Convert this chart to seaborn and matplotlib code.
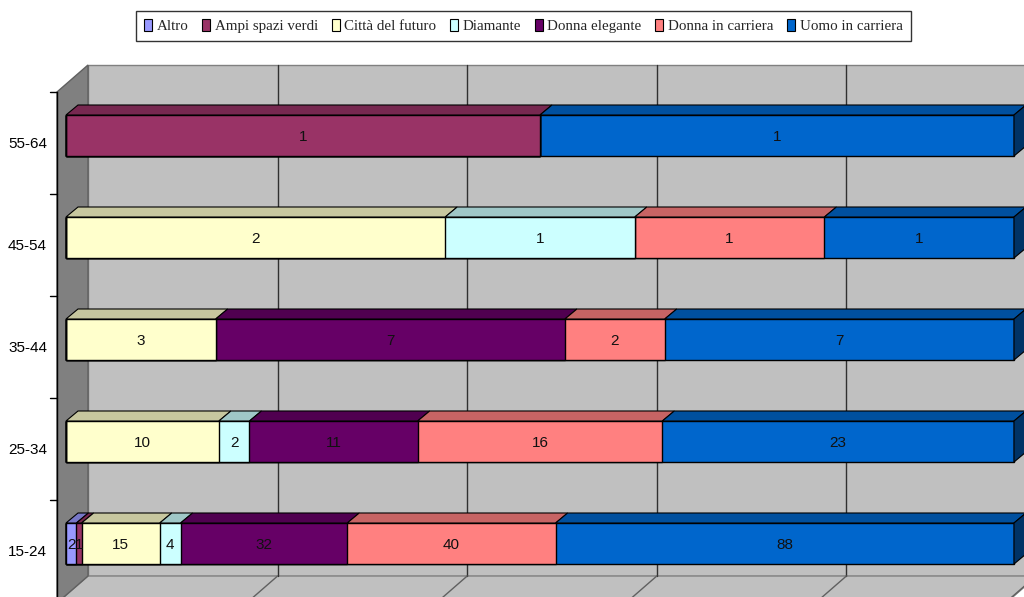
import numpy as np
import pandas as pd
import matplotlib
matplotlib.use("Agg")
import matplotlib.pyplot as plt
from matplotlib.patches import Polygon, Patch
from matplotlib.colors import to_rgb
import seaborn as sns

# Age groups (top to bottom) and response categories
ages = ["55-64", "45-54", "35-44", "25-34", "15-24"]
series = ["Altro", "Ampi spazi verdi", "Città del futuro", "Diamante",
          "Donna elegante", "Donna in carriera", "Uomo in carriera"]

altro = [0, 0, 0, 0, 2]
ampi_spazi_verdi = [1, 0, 0, 0, 1]
citta_del_futuro = [0, 2, 3, 10, 15]
diamante = [0, 1, 0, 2, 4]
donna_elegante = [0, 0, 7, 11, 32]
donna_in_carriera = [0, 1, 2, 16, 40]
uomo_in_carriera = [1, 1, 7, 23, 88]

colors = ["#9999FF", "#993366", "#FFFFCC", "#CCFFFF",
          "#660066", "#FF8080", "#0066CC"]

counts = pd.DataFrame(dict(zip(series, [altro, ampi_spazi_verdi, citta_del_futuro,
                                        diamante, donna_elegante, donna_in_carriera,
                                        uomo_in_carriera])), index=ages)
share = counts.div(counts.sum(axis=1), axis=0) * 100
right = share.cumsum(axis=1)
left = right - share

sns.set_theme(style="white")
plt.rcParams["font.family"] = ["Liberation Sans", "DejaVu Sans"]

W, H = 1024, 597
fig = plt.figure(figsize=(W / 100, H / 100), dpi=100)
ax = fig.add_axes([0, 0, 1, 1])

# pixel scale of the plotting plane
PXX = 9.48          # pixels per percent
X0 = 66             # pixel column of 0 %
PXY = 102           # pixels per category step
Y0 = 135.5          # pixel row of first category centre
BAR_H = 0.402
DX, DY = 12 / PXX, -10 / PXY          # bar depth
WX, WY = 31 / PXX, -27 / PXY          # wall depth


def px(x, y):
    return ((x - X0) / PXX, (y - Y0) / PXY)


# walls and floor
wall_front_x = px(57, 0)[0]
wall_top_front = px(0, 92)[1]
floor_front = px(0, 603)[1]
back_x = wall_front_x + WX
back_top = wall_top_front + WY
back_bottom = floor_front + WY
back_right = 100 + 2.32 + 0.1

ax.add_patch(Polygon([(back_x, back_top), (back_right, back_top),
                      (back_right, back_bottom), (back_x, back_bottom)],
                     closed=True, facecolor="#C0C0C0", edgecolor="#808080",
                     lw=1, zorder=0))
ax.add_patch(Polygon([(back_x, back_bottom), (back_right, back_bottom),
                      (back_right - WX, floor_front), (wall_front_x, floor_front)],
                     closed=True, facecolor="#C0C0C0", edgecolor="#808080",
                     lw=1, zorder=0))
ax.add_patch(Polygon([(wall_front_x, wall_top_front), (back_x, back_top),
                      (back_x, back_bottom), (wall_front_x, floor_front)],
                     closed=True, facecolor="#808080", edgecolor="#606060",
                     lw=1, zorder=0.5))

# gridlines on back wall and floor
for k in range(1, 6):
    gx = back_x + 20 * k
    ax.plot([gx, gx], [back_top, back_bottom], color="#303030", lw=1, zorder=1)
    ax.plot([gx, gx - WX], [back_bottom, floor_front], color="#606060", lw=1, zorder=1)

# category axis with tick marks
ax.plot([wall_front_x, wall_front_x], [wall_top_front, floor_front],
        color="black", lw=1, zorder=2)
for i in range(len(ages) + 1):
    ty = i - 0.43
    ax.plot([px(50, 0)[0], wall_front_x], [ty, ty], color="black", lw=1, zorder=2)

# stacked bars: draw cumulative totals from the longest down
for j in reversed(range(len(series))):
    sns.barplot(x=right[series[j]].values, y=ages, order=ages, orient="h",
                color=colors[j], saturation=1, width=BAR_H,
                edgecolor="black", linewidth=1, ax=ax, zorder=5)


def shade(c, f):
    r, g, b = to_rgb(c)
    return (r * f, g * f, b * f)


for i, age in enumerate(ages):
    yt = i - BAR_H / 2
    yb = i + BAR_H / 2
    last = None
    for j, s in enumerate(series):
        v = counts.loc[age, s]
        if v == 0:
            continue
        l, r = left.loc[age, s], right.loc[age, s]
        ax.add_patch(Polygon([(l, yt), (r, yt), (r + DX, yt + DY), (l + DX, yt + DY)],
                             closed=True, facecolor=shade(colors[j], 0.78),
                             edgecolor="black", lw=0.8, zorder=6))
        ax.text((l + r) / 2, i + 0.01, str(v), ha="center", va="center",
                fontsize=11, color="#111111", zorder=8)
        last = j
    ax.add_patch(Polygon([(100, yt), (100 + DX, yt + DY), (100 + DX, yb + DY), (100, yb)],
                         closed=True, facecolor=shade(colors[last], 0.5),
                         edgecolor="black", lw=0.8, zorder=6))
    ax.text(px(47, 0)[0], i + 0.08, age, ha="right", va="center",
            fontsize=11, color="black", zorder=8)

ax.set_xlim(-X0 / PXX, (W - X0) / PXX)
ax.set_ylim((H - Y0) / PXY, -Y0 / PXY)
ax.set_axis_off()

handles = [Patch(facecolor=c, edgecolor="black", lw=0.8) for c in colors]
leg = fig.legend(handles, series, loc="upper center", bbox_to_anchor=(0.511, 0.982),
                 ncol=7, frameon=True, fancybox=False, edgecolor="black",
                 prop={"family": "Liberation Serif", "size": 10.8},
                 handlelength=0.55, handleheight=0.85, handletextpad=0.3,
                 columnspacing=0.9, borderpad=0.55, borderaxespad=0)
leg.get_frame().set_linewidth(1)

fig.savefig("out.png", dpi=100, facecolor="white")
